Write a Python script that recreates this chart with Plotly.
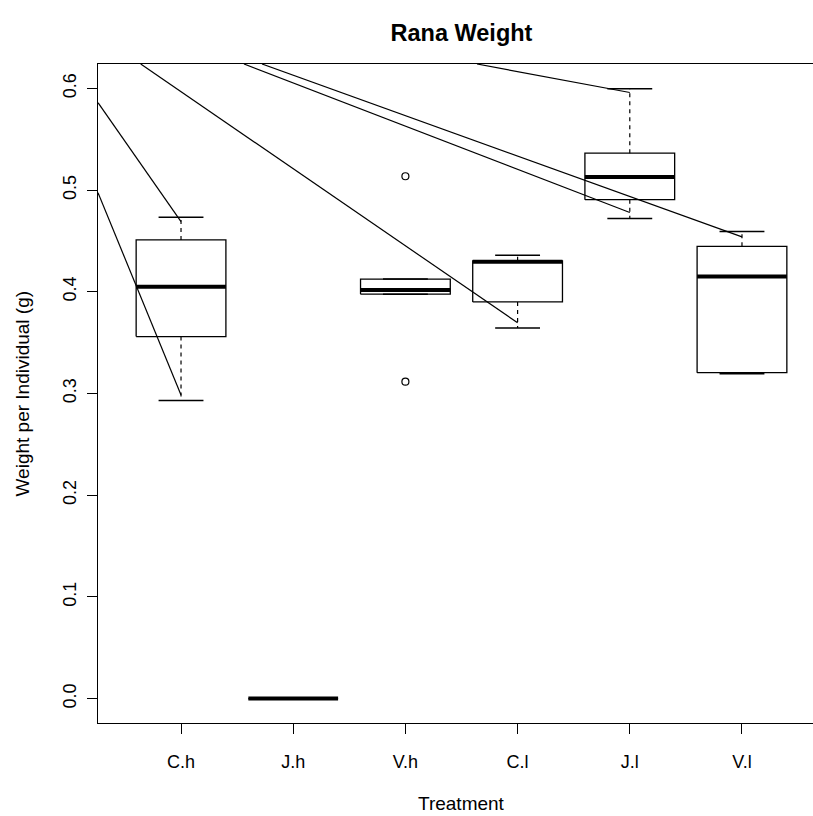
import plotly.graph_objects as go

# ---------------- data ----------------
categories = ["C.h", "J.h", "V.h", "C.l", "J.l", "V.l"]
lower_whisker = [0.293, 0.0, 0.3977, 0.3645, 0.472, 0.3195]
q1 = [0.356, 0.0, 0.3977, 0.390, 0.4906, 0.3205]
median = [0.405, 0.0, 0.4017, 0.4296, 0.513, 0.4151]
q3 = [0.451, 0.0, 0.4125, 0.4305, 0.5363, 0.4447]
upper_whisker = [0.4732, 0.0, 0.4125, 0.436, 0.5997, 0.4594]
outlier_group = [3, 3]
outlier_value = [0.5136, 0.3116]

# stray segments drawn over the plot (start -> end, in data units)
seg_x0 = [0.26, 0.26, 0.641, 1.561, 1.722, 3.638]
seg_y0 = [0.4975, 0.586, 0.624, 0.624, 0.624, 0.624]
seg_x1 = [1, 1, 4, 5, 6, 5]
seg_y1 = [0.2985, 0.469, 0.3695, 0.478, 0.454, 0.596]

y_ticks = [0.0, 0.1, 0.2, 0.3, 0.4, 0.5, 0.6]
y_tick_labels = ["0.0", "0.1", "0.2", "0.3", "0.4", "0.5", "0.6"]

# ---------------- styling ----------------
BOXWEX = 0.8
STAPLE = 0.4
FONT = "Liberation Sans, Arial, Helvetica, sans-serif"
W, H = 813, 816
ML, MR, MT, MB = 98, 0, 64, 93
R_XMIN, R_XMAX = 0.26, 6.74
R_PLOT_PX = 727  # width of the original plot region (partly off-screen)
x_max_visible = R_XMIN + (R_XMAX - R_XMIN) * (W - ML - MR) / R_PLOT_PX

positions = list(range(1, len(categories) + 1))

box_x, box_y = [], []
med_x, med_y = [], []
wh_x, wh_y = [], []
st_x, st_y = [], []
for p, lw, a, m, b, uw in zip(positions, lower_whisker, q1, median, q3, upper_whisker):
    l, r = p - BOXWEX / 2, p + BOXWEX / 2
    box_x += [l, r, r, l, l, None]
    box_y += [a, a, b, b, a, None]
    med_x += [l, r, None]
    med_y += [m, m, None]
    if uw > b:
        wh_x += [p, p, None]
        wh_y += [b, uw, None]
    if lw < a:
        wh_x += [p, p, None]
        wh_y += [a, lw, None]
    sl, sr = p - STAPLE / 2, p + STAPLE / 2
    st_x += [sl, sr, None, sl, sr, None]
    st_y += [uw, uw, None, lw, lw, None]

seg_x, seg_y = [], []
for a, b, c, d in zip(seg_x0, seg_y0, seg_x1, seg_y1):
    seg_x += [a, c, None]
    seg_y += [b, d, None]

fig = go.Figure()
fig.add_trace(go.Scatter(x=wh_x, y=wh_y, mode="lines",
                         line=dict(color="black", width=1.2, dash="4px,4px"), hoverinfo="skip"))
fig.add_trace(go.Scatter(x=st_x, y=st_y, mode="lines",
                         line=dict(color="black", width=1.5), hoverinfo="skip"))
fig.add_trace(go.Scatter(x=box_x, y=box_y, mode="lines",
                         line=dict(color="black", width=1.3), hoverinfo="skip"))
fig.add_trace(go.Scatter(x=med_x, y=med_y, mode="lines",
                         line=dict(color="black", width=4), hoverinfo="skip"))
fig.add_trace(go.Scatter(x=outlier_group, y=outlier_value, mode="markers",
                         marker=dict(symbol="circle-open", size=7, color="black",
                                     line=dict(width=1.2, color="black")), hoverinfo="skip"))
fig.add_trace(go.Scatter(x=seg_x, y=seg_y, mode="lines",
                         line=dict(color="black", width=1.2), hoverinfo="skip"))

fig.update_layout(
    width=W, height=H,
    margin=dict(l=ML, r=MR, t=MT, b=MB),
    paper_bgcolor="white", plot_bgcolor="white",
    showlegend=False,
    hovermode=False,
    font=dict(family=FONT, size=18, color="black"),
    title=dict(text="<b>Rana Weight</b>", x=(ML + R_PLOT_PX / 2) / W, xref="container",
               xanchor="center", y=1 - 33 / H, yref="container", yanchor="middle",
               font=dict(family=FONT, size=23.5, color="black")),
    xaxis=dict(range=[R_XMIN, x_max_visible], tickvals=positions, ticktext=categories,
               showgrid=False, zeroline=False, showline=True, mirror=True,
               linecolor="black", linewidth=1.3, ticks="outside", ticklen=10,
               tickcolor="black", tickwidth=1.2, ticklabelstandoff=12,
               tickfont=dict(family=FONT, size=18, color="black")),
    yaxis=dict(range=[-0.024, 0.624], tickvals=y_ticks, ticktext=y_tick_labels,
               showgrid=False, zeroline=False, showline=True, mirror=False,
               linecolor="black", linewidth=1.3, ticks="outside", ticklen=10,
               tickcolor="black", tickwidth=1.2, tickangle=-90, ticklabelstandoff=4,
               tickfont=dict(family=FONT, size=18, color="black")),
    annotations=[
        dict(text="Treatment", x=(R_XMIN + R_XMAX) / 2, xref="x", y=(723 - 803) / (H - MT - MB),
             yref="paper", xanchor="center", yanchor="middle", showarrow=False,
             font=dict(family=FONT, size=19, color="black")),
        dict(text="Weight per Individual (g)", x=(22 - ML) / (W - ML - MR), xref="paper",
             y=0.5, yref="paper", xanchor="center", yanchor="middle", textangle=-90,
             showarrow=False, font=dict(family=FONT, size=19, color="black")),
    ],
)

fig.write_html(
    "out.html",
    config={"displayModeBar": False},
    post_script="document.body.style.margin='0px';document.body.style.overflow='hidden';",
)
